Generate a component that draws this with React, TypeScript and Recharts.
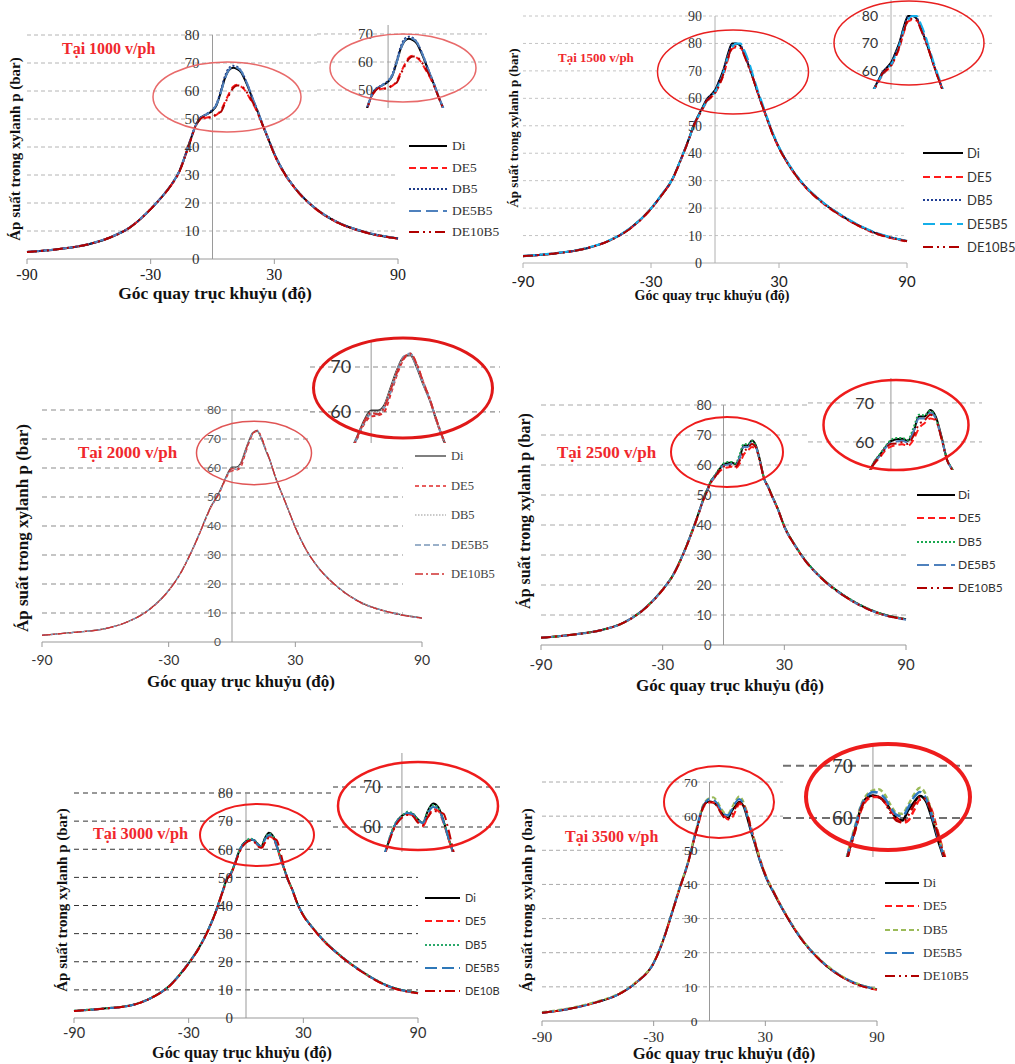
import React from 'react';
import { LineChart, Line, XAxis, YAxis, ReferenceLine, ReferenceDot } from 'recharts';

const ANGLES = [-90, -75, -60, -50, -40, -30, -25, -20, -16, -12, -10, -8, -6, -4, -2, 0, 2, 4, 6, 8, 10, 12, 14, 16, 18, 20, 22, 24, 27, 30, 35, 40, 50, 60, 75, 90];
const X_TICKS = [-90, -30, 30, 90];
const SERIES = ['Di', 'DE5', 'DB5', 'DE5B5', 'DE10B5'];
const Y_TICKS_80 = [0, 10, 20, 30, 40, 50, 60, 70, 80];
const Y_TICKS_90 = [0, 10, 20, 30, 40, 50, 60, 70, 80, 90];
const Y_TICKS_70 = [0, 10, 20, 30, 40, 50, 60, 70];
const INSET_TICKS_A = [50, 60, 70];
const INSET_TICKS_B = [60, 70, 80];
const INSET_TICKS_C = [60, 70];
const X_LABEL = 'Góc quay trục khuỷu (độ)';
const Y_LABEL = 'Áp suất trong xylanh p (bar)';
const TITLES = ['Tại 1000 v/ph', 'Tại 1500 v/ph', 'Tại 2000 v/ph', 'Tại 2500 v/ph', 'Tại 3000 v/ph', 'Tại 3500 v/ph'];

// ---- 1000 v/ph ----
const P1000_DI = [2.5, 3.5, 5.3, 7.6, 11.3, 17.8, 21.8, 26.5, 31.5, 39.6, 44, 48, 50.3, 51.2, 52, 53, 55, 59.5, 64.5, 67.5, 68.3, 67.8, 66.5, 63.5, 60, 56, 52.5, 48.5, 43, 37.5, 30.5, 25.3, 18, 13.3, 9.4, 7.3];
const P1000_DE5 = [2.5, 3.5, 5.3, 7.6, 11.3, 17.8, 21.8, 26.4, 31.3, 39.4, 43.8, 47.7, 49.8, 50.3, 50.6, 50.8, 51.5, 53, 56, 59, 61.5, 62.2, 61.5, 60, 57.5, 55, 52, 48.3, 43, 37.3, 30.3, 25.2, 17.9, 13.2, 9.3, 7.2];
const P1000_DB5 = [2.5, 3.5, 5.3, 7.6, 11.3, 17.8, 21.8, 26.5, 31.5, 39.6, 44.1, 48.1, 50.4, 51.3, 52.2, 53.3, 55.5, 60, 65.2, 68.2, 69, 68.6, 67, 64, 60.3, 56.3, 52.7, 48.6, 43.1, 37.6, 30.6, 25.4, 18.1, 13.4, 9.4, 7.3];
const P1000_DE5B5 = [2.6, 3.5, 5.4, 7.7, 11.4, 17.9, 21.9, 26.6, 31.6, 39.8, 44.2, 48, 50.2, 51.2, 52.1, 53.2, 55.2, 59.3, 64.3, 67.6, 68.6, 68.3, 67, 64, 60.4, 56.4, 52.8, 48.8, 43.2, 37.7, 30.6, 25.4, 18.1, 13.4, 9.5, 7.4];
const P1000_DE10B5 = [2.5, 3.5, 5.3, 7.6, 11.3, 17.8, 21.8, 26.4, 31.3, 39.5, 43.8, 47.8, 49.9, 50.8, 50.5, 50.6, 52, 52.5, 55.5, 58.5, 61, 62, 61.8, 60.2, 58, 55.3, 52.2, 48.4, 43, 37.4, 30.4, 25.3, 18, 13.3, 9.4, 7.3];

// ---- 1500 v/ph ----
const P1500_DI = [2.5, 3.5, 5.4, 8, 12.5, 19.8, 24.8, 30.5, 37.8, 45.8, 50.2, 53.5, 56.5, 59.5, 61.2, 63, 66.5, 70.5, 76, 80, 80, 79, 75.5, 71.5, 67, 62.2, 57.8, 53.5, 47.2, 42, 35.3, 29.9, 22.3, 16.9, 11, 8];
const P1500_DE5 = [2.5, 3.5, 5.4, 8, 12.4, 19.7, 24.7, 30.3, 37.5, 45.5, 49.8, 53, 55.8, 58.5, 60.2, 61.8, 64.8, 68.5, 74, 78, 78.5, 78.3, 75.5, 71.5, 67, 62, 57.6, 53.3, 47, 41.8, 35.1, 29.7, 22.1, 16.7, 10.8, 7.8];
const P1500_DB5 = [2.5, 3.5, 5.4, 8, 12.5, 19.8, 24.8, 30.5, 37.8, 45.7, 50.1, 53.4, 56.4, 59.4, 61, 62.8, 66.2, 70.2, 75.7, 79.5, 80, 79.3, 75.8, 71.7, 67.2, 62.3, 57.9, 53.6, 47.3, 42.1, 35.4, 30, 22.4, 17, 11.1, 8.1];
const P1500_DE5B5 = [2.6, 3.6, 5.5, 8.1, 12.6, 19.9, 25, 30.6, 37.8, 45.6, 50, 53.2, 56, 58.8, 60.6, 62.2, 65.5, 69.5, 75, 78.5, 80, 80, 77, 73, 68, 63, 58.5, 54, 47.6, 42.3, 35.5, 30.1, 22.5, 17.1, 11.2, 8.1];
const P1500_DE10B5 = [2.5, 3.5, 5.4, 8, 12.4, 19.7, 24.7, 30.4, 37.6, 45.6, 50, 53.2, 56, 59, 60.5, 62, 65, 69, 74.5, 78.5, 79, 78.5, 75, 71, 66.8, 62, 57.6, 53.3, 47, 41.9, 35.2, 29.8, 22.2, 16.8, 10.9, 7.9];

// ---- 2000 v/ph ----
const P2000_DI = [2.3, 3.3, 4.6, 6.8, 10.8, 17.8, 23, 30, 36.5, 43.5, 46.8, 49.2, 51.8, 55, 58.3, 60.3, 60.3, 61.5, 65.5, 69.5, 72.3, 72.6, 69.8, 66, 62.5, 58, 54, 50.5, 45, 39.5, 32, 26.5, 19, 14, 10.2, 8.3];
const P2000_DE5 = [2.3, 3.3, 4.6, 6.8, 10.7, 17.7, 22.9, 29.8, 36.2, 43.2, 46.4, 48.8, 51.3, 54.5, 57.5, 59, 59.2, 60, 64, 68.5, 71.8, 72.8, 70.5, 66.5, 62.7, 58, 54, 50.4, 44.9, 39.4, 31.9, 26.4, 18.9, 13.9, 10.1, 8.2];
const P2000_DB5 = [2.3, 3.3, 4.6, 6.8, 10.8, 17.8, 23, 30, 36.5, 43.4, 46.7, 49.1, 51.7, 54.8, 58, 60, 60, 61.3, 65.2, 69.3, 72.2, 72.8, 70, 66.2, 62.6, 58.1, 54.1, 50.6, 45.1, 39.6, 32.1, 26.6, 19.1, 14.1, 10.3, 8.3];
const P2000_DE5B5 = [2.3, 3.3, 4.6, 6.8, 10.8, 17.8, 23, 29.9, 36.3, 43.2, 46.5, 48.9, 51.4, 54.7, 57.8, 59.5, 59.5, 61, 64.5, 69, 72.3, 73, 70, 66.3, 62.6, 58.1, 54, 50.5, 45, 39.5, 32, 26.5, 19, 14, 10.2, 8.2];
const P2000_DE10B5 = [2.3, 3.3, 4.6, 6.8, 10.7, 17.7, 22.9, 29.9, 36.3, 43.3, 46.6, 49, 51.5, 54.8, 58, 59.8, 59.5, 61, 65, 69, 72, 73, 70.5, 66.5, 62.7, 58.2, 54.1, 50.5, 45, 39.5, 32, 26.5, 19, 14, 10.2, 8.2];

// ---- 2500 v/ph ----
const P2500_DI = [2.4, 3.4, 5, 7.2, 11.5, 18.5, 23.2, 30.2, 37, 44.5, 48.5, 51.8, 54.8, 56.6, 58.6, 60.2, 60.7, 60.8, 60.3, 62.5, 66.5, 66.5, 68.2, 66.5, 61.5, 55.5, 52.8, 49.6, 45, 39.5, 33.5, 28.5, 21.3, 16.2, 11, 8.6];
const P2500_DE5 = [2.4, 3.4, 5, 7.2, 11.4, 18.4, 23.1, 30, 36.7, 44.2, 48.2, 51.4, 54.3, 56, 57.8, 58.8, 59.2, 59.4, 59, 60.5, 63.5, 64.8, 66, 65.5, 61, 55.5, 52.7, 49.5, 44.9, 39.4, 33.4, 28.4, 21.2, 16.1, 10.9, 8.5];
const P2500_DB5 = [2.4, 3.4, 5, 7.2, 11.5, 18.5, 23.2, 30.2, 37.1, 44.6, 48.6, 51.9, 54.9, 56.8, 58.8, 60.5, 61, 61, 60.5, 63.5, 67, 66.8, 68, 66.2, 61.3, 55.6, 52.9, 49.7, 45.1, 39.6, 33.6, 28.6, 21.4, 16.3, 11.1, 8.6];
const P2500_DE5B5 = [2.4, 3.4, 5, 7.2, 11.5, 18.5, 23.2, 30.1, 36.9, 44.4, 48.4, 51.6, 54.6, 56.4, 58.4, 59.8, 60.1, 60.3, 59.8, 62.5, 66, 66, 67.5, 66, 61.2, 55.4, 52.7, 49.5, 44.9, 39.4, 33.4, 28.4, 21.2, 16.1, 10.9, 8.4];
const P2500_DE10B5 = [2.4, 3.4, 5, 7.2, 11.4, 18.4, 23.1, 30, 36.8, 44.3, 48.3, 51.5, 54.5, 56.2, 58.2, 59.5, 59.6, 59.9, 59.5, 61.5, 64.5, 65.5, 67, 65.8, 61, 55.4, 52.6, 49.5, 44.9, 39.4, 33.4, 28.4, 21.2, 16.1, 10.9, 8.5];

// ---- 3000 v/ph ----
const P3000_DI = [2.5, 3.3, 4.5, 7, 11.5, 19.5, 24.5, 31, 37.5, 45.5, 49.5, 51.3, 54.5, 58.5, 61.3, 62.8, 63.4, 63.3, 62, 61, 64.1, 65.9, 64.9, 61.5, 57, 53, 49, 46, 40.5, 36.5, 32, 28, 21.8, 16.8, 11.2, 8.9];
const P3000_DE5 = [2.5, 3.3, 4.5, 7, 11.4, 19.4, 24.4, 30.8, 37.3, 45.2, 49.2, 51, 54.2, 58.2, 61, 62.5, 63.2, 63, 61.5, 60.2, 62.5, 64.5, 64, 61, 56.8, 52.8, 48.9, 45.9, 40.4, 36.4, 31.9, 27.9, 21.7, 16.7, 11.1, 8.8];
const P3000_DB5 = [2.6, 3.4, 4.6, 7.1, 11.6, 19.6, 24.6, 31.1, 37.6, 45.6, 49.6, 51.5, 54.7, 58.8, 61.5, 62.8, 63.8, 63.5, 62, 61.2, 64, 65.5, 64.8, 61.5, 57.1, 53.1, 49.1, 46.1, 40.6, 36.6, 32.1, 28.1, 21.9, 16.9, 11.3, 9];
const P3000_DE5B5 = [2.5, 3.3, 4.5, 7, 11.5, 19.5, 24.5, 31, 37.5, 45.5, 49.5, 51.3, 54.6, 58.5, 61.3, 62.6, 63.5, 63.2, 61.8, 61, 63.5, 65, 64.5, 61.3, 57, 53, 49, 46, 40.5, 36.5, 32, 28, 21.8, 16.8, 11.2, 8.9];
const P3000_DE10B5 = [2.5, 3.3, 4.5, 7, 11.4, 19.4, 24.4, 30.9, 37.4, 45.3, 49.3, 51.1, 54.3, 58, 60.8, 62.3, 63, 62.8, 61.2, 60.5, 62.5, 64, 63.8, 63.3, 59, 53.5, 49.2, 46, 40.5, 36.4, 31.9, 27.9, 21.7, 16.7, 11.1, 8.8];

// ---- 3500 v/ph ----
const P3500_DI = [2.4, 3.6, 5.6, 7.5, 11, 17, 23.5, 32, 39, 45.5, 49.5, 54, 58, 62, 63.9, 64.3, 64, 63.2, 61.5, 60, 59.5, 61.5, 63, 64.2, 63.2, 60, 56, 52.5, 47, 42.5, 37, 32, 23.5, 17.5, 11.8, 9.2];
const P3500_DE5 = [2.4, 3.6, 5.6, 7.5, 11, 17, 23.4, 31.8, 38.8, 45.3, 49.3, 53.7, 57.6, 61.5, 63.5, 64, 64, 63, 61.5, 60, 59, 59.5, 61.5, 63.5, 63.5, 61.5, 57.5, 53.5, 47.8, 43, 37.3, 32.2, 23.6, 17.5, 11.7, 9.1];
const P3500_DB5 = [2.6, 3.8, 5.8, 7.7, 11.2, 17.2, 23.7, 32.2, 39.3, 45.8, 49.9, 54.5, 58.6, 62.5, 64.5, 65.3, 65.5, 64.5, 62.5, 61, 60.8, 62.5, 64.5, 65.8, 64.5, 61, 57, 53.2, 47.6, 43, 37.4, 32.3, 23.8, 17.8, 12, 9.4];
const P3500_DE5B5 = [2.4, 3.6, 5.6, 7.5, 11, 17, 23.5, 32, 39.1, 45.6, 49.7, 54.2, 58.3, 62.3, 64.2, 65, 64.8, 63.8, 62, 60.6, 60.3, 62, 64, 65, 63.8, 60.5, 56.5, 52.8, 47.2, 42.6, 37.1, 32.1, 23.6, 17.6, 11.9, 9.3];
const P3500_DE10B5 = [2.4, 3.6, 5.6, 7.5, 11, 17, 23.4, 31.9, 38.9, 45.4, 49.4, 53.8, 57.8, 61.8, 63.8, 64.2, 64, 63, 61, 59.5, 59.2, 60.5, 62.5, 64, 63.5, 61, 57, 53, 47.5, 42.8, 37.2, 32.1, 23.5, 17.5, 11.7, 9.1];

function buildRows(cols: number[][]) {
  return ANGLES.map((a, i) => {
    const r: any = { a };
    SERIES.forEach((s, k) => { r[s] = cols[k][i]; });
    return r;
  });
}

const SERIF = "'Liberation Serif','DejaVu Serif','Times New Roman',serif";
const SANS = "Lato,'Liberation Sans',sans-serif";
const RED = '#f0282d';
const ML = 20, MR = 20, MT = 10, XH = 40;

const STY_A = [{ c: '#000' }, { c: '#ff1a1a', d: '7 4' }, { c: '#1f3d8a', d: '2 2' }, { c: '#4f81bd', d: '12 5' }, { c: '#b00000', d: '10 4 2 4 2 4' }];
const STY_B = [{ c: '#000' }, { c: '#ff1a1a', d: '7 4' }, { c: '#203f95', d: '2 2' }, { c: '#15aee8', d: '12 5' }, { c: '#b00000', d: '10 4 2 4 2 4' }];
const STY_C = [{ c: '#3a3a3a' }, { c: '#e02828', d: '4 3' }, { c: '#b8b8b8', d: '1.5 1.5' }, { c: '#7a96b8', d: '6 3' }, { c: '#d03030', d: '8 3 2 3' }];
const STY_D = [{ c: '#000' }, { c: '#ff1a1a', d: '7 4' }, { c: '#1aa84f', d: '2 2' }, { c: '#4f81bd', d: '12 5' }, { c: '#b00000', d: '10 4 2 4 2 4' }];
const STY_E = [{ c: '#000' }, { c: '#ff1a1a', d: '7 4' }, { c: '#2aa86a', d: '2 2' }, { c: '#2e78b8', d: '12 5' }, { c: '#c00000', d: '10 4 2 4' }];
const STY_F = [{ c: '#000' }, { c: '#ff1a1a', d: '7 4' }, { c: '#9bbb59', d: '5 3' }, { c: '#2e78c0', d: '12 5' }, { c: '#b00000', d: '10 4 2 4 2 4' }];

const PANELS: any[] = [
  {
    rows: buildRows([P1000_DI, P1000_DE5, P1000_DB5, P1000_DE5B5, P1000_DE10B5]), styles: STY_A, title: TITLES[0],
    x0: 27, x1: 398, yTop: 35, yBot: 259, yMax: 80, yTicks: Y_TICKS_80, gridEnd: 90,
    grid: { c: '#b4b4b4', d: '4 3', w: 1 }, axis: '#9a9a9a', lw: 2, insetLw: 2,
    yTick: { font: SERIF, size: 15, color: '#333', off: 13 },
    xTick: { font: SERIF, size: 16, color: '#222', m: 5 },
    t: { x: 62, cy: 49, s: 16 }, xl: { cx: 215, cy: 294, s: 17.5 }, yl: { cx: 15, cy: 149, s: 15 },
    lg: { x: 409, y: 146, dy: 21.5, w: 38, gap: 5, font: SERIF, size: 13.5, color: '#333', lw: 2 },
    inset: { l: 317, t: 25, r: 487, b: 108, xd: [-34.5, 48], yd: [43.6, 73.2], ticks: INSET_TICKS_A, font: SERIF, size: 15, color: '#333', off: 15, grid: { c: '#b4b4b4', d: '4 3', w: 1 } },
    ell: [[227, 97, 74, 35, '#e86a6a', 1.5], [403, 68, 73, 34, '#e86a6a', 1.5]],
  },
  {
    rows: buildRows([P1500_DI, P1500_DE5, P1500_DB5, P1500_DE5B5, P1500_DE10B5]), styles: STY_B, title: TITLES[1],
    x0: 523, x1: 907, yTop: 16, yBot: 263, yMax: 90, yTicks: Y_TICKS_90, gridEnd: 90,
    grid: { c: '#c4c4c4', d: '3 3', w: 1 }, axis: '#b0b0b0', lw: 2, insetLw: 2,
    yTick: { font: SERIF, size: 14, color: '#333', off: 13 },
    xTick: { font: SANS, size: 15, color: '#222', m: 8 },
    t: { x: 558, cy: 57, s: 13 }, xl: { cx: 712, cy: 296, s: 14 }, yl: { cx: 513, cy: 128, s: 13 },
    lg: { x: 923, y: 153, dy: 23.5, w: 40, gap: 4, font: SANS, size: 13, color: '#333', lw: 2 },
    inset: { l: 833, t: 0, r: 993, b: 89, xd: [-27.2, 47.8], yd: [53.4, 85.8], ticks: INSET_TICKS_B, font: SANS, size: 14, color: '#333', off: 13, grid: { c: '#c4c4c4', d: '3 3', w: 1 } },
    ell: [[733, 72, 75.5, 42, '#e82020', 1.5], [909, 43, 75, 42, '#e82020', 1.5]],
  },
  {
    rows: buildRows([P2000_DI, P2000_DE5, P2000_DB5, P2000_DE5B5, P2000_DE10B5]), styles: STY_C, title: TITLES[2],
    x0: 42, x1: 422, yTop: 410, yBot: 642, yMax: 80, yTicks: Y_TICKS_80, gridEnd: 81,
    grid: { c: '#8c8c8c', d: '5 4', w: 1.2 }, axis: '#999', lw: 1.2, insetLw: 2,
    yTick: { font: SANS, size: 12, color: '#555', off: 11 },
    xTick: { font: SANS, size: 14, color: '#333', m: 8 },
    t: { x: 78, cy: 452, s: 17 }, xl: { cx: 241, cy: 681, s: 17 }, yl: { cx: 22, cy: 528, s: 17 },
    lg: { x: 415, y: 456, dy: 29.5, w: 31, gap: 5, font: SERIF, size: 12.5, color: '#444', lw: 1.3 },
    inset: { l: 310, t: 340, r: 500, b: 443, xd: [-18.7, 39.4], yd: [53.1, 76], ticks: INSET_TICKS_C, font: SANS, size: 18, color: '#333', off: 20, grid: { c: '#8c8c8c', d: '5 4', w: 1.2 } },
    ell: [[254, 453, 57.5, 31.7, '#e05555', 1.5], [403, 388, 89.5, 50, '#e01818', 3]],
  },
  {
    rows: buildRows([P2500_DI, P2500_DE5, P2500_DB5, P2500_DE5B5, P2500_DE10B5]), styles: STY_D, title: TITLES[3],
    x0: 541, x1: 906, yTop: 405, yBot: 645, yMax: 80, yTicks: Y_TICKS_80, gridEnd: 90,
    grid: { c: '#a8a8a8', d: '5 4', w: 1 }, axis: '#999', lw: 2, insetLw: 2,
    yTick: { font: SANS, size: 13, color: '#444', off: 12 },
    xTick: { font: SANS, size: 15, color: '#333', m: 9 },
    t: { x: 557, cy: 452, s: 17 }, xl: { cx: 730, cy: 685, s: 17 }, yl: { cx: 525, cy: 511, s: 16 },
    lg: { x: 917, y: 495, dy: 23.3, w: 38, gap: 3, font: SANS, size: 12, color: '#333', lw: 2 },
    inset: { l: 808, t: 378, r: 982, b: 470, xd: [-29.6, 32.5], yd: [52.8, 76.4], ticks: INSET_TICKS_C, font: SANS, size: 16, color: '#333', off: 17, grid: { c: '#a8a8a8', d: '5 4', w: 1 } },
    ell: [[727, 452, 56, 35, '#ee1c1c', 2], [896, 425, 72.5, 45, '#ee1c1c', 2.5]],
  },
  {
    rows: buildRows([P3000_DI, P3000_DE5, P3000_DB5, P3000_DE5B5, P3000_DE10B5]), styles: STY_E, title: TITLES[4],
    x0: 74, x1: 418, yTop: 793, yBot: 1018, yMax: 80, yTicks: Y_TICKS_80, gridEnd: 90, clipW: 500,
    grid: { c: '#333', d: '5 4', w: 1 }, axis: '#999', lw: 2, insetLw: 2,
    yTick: { font: SERIF, size: 15, color: '#333', off: 13 },
    xTick: { font: SANS, size: 14.5, color: '#333', m: 5 },
    t: { x: 93, cy: 834, s: 16.3 }, xl: { cx: 242, cy: 1053, s: 16.3 }, yl: { cx: 62, cy: 900, s: 15 },
    lg: { x: 425, y: 898, dy: 23.3, w: 35, gap: 5, font: SANS, size: 11, color: '#333', lw: 2 },
    inset: { l: 333, t: 753, r: 500, b: 852, xd: [-26.5, 37.7], yd: [53.75, 78.5], ticks: INSET_TICKS_C, font: SERIF, size: 18, color: '#333', off: 21, grid: { c: '#333', d: '5 4', w: 1 } },
    ell: [[257, 835, 57, 31, '#ee1c1c', 2], [418, 806, 80, 44, '#ee1c1c', 2.5]],
  },
  {
    rows: buildRows([P3500_DI, P3500_DE5, P3500_DB5, P3500_DE5B5, P3500_DE10B5]), styles: STY_F, title: TITLES[5],
    x0: 542, x1: 877, yTop: 782, yBot: 1021, yMax: 70, yTicks: Y_TICKS_70, gridEnd: 90,
    grid: { c: '#aaaaaa', d: '4 3', w: 1 }, axis: '#999', lw: 2, insetLw: 2.5,
    yTick: { font: SERIF, size: 13.5, color: '#333', off: 12 },
    xTick: { font: SERIF, size: 15.5, color: '#333', m: 5 },
    t: { x: 565, cy: 837, s: 16 }, xl: { cx: 724, cy: 1054, s: 16.5 }, yl: { cx: 527, cy: 900, s: 15 },
    lg: { x: 885, y: 883, dy: 23.3, w: 34, gap: 4, font: SERIF, size: 13, color: '#333', lw: 2 },
    inset: { l: 783, t: 745, r: 972, b: 857, xd: [-30.6, 33.7], yd: [52.5, 74], ticks: INSET_TICKS_C, font: SERIF, size: 21, color: '#333', off: 20, grid: { c: '#707070', d: '8 5', w: 2 } },
    ell: [[719, 802, 55, 36, '#ee1c1c', 2], [888, 797, 82, 53, '#ee1c1c', 4]],
  },
];

function seriesLines(c: any, lw: number) {
  return SERIES.map((s, k) => (
    <Line key={s} type="monotone" dataKey={s} stroke={c.styles[k].c} strokeWidth={lw}
      strokeDasharray={c.styles[k].d} dot={false} activeDot={false} isAnimationActive={false} />
  ));
}

function Panel({ c }: { c: any }) {
  const W = c.x1 - c.x0 + ML + MR;
  const H = c.yBot - c.yTop + MT + XH;
  const ins = c.inset;
  const iw = ins.r - ins.l;
  const ih = ins.b - ins.t;
  const bold = { fontFamily: SERIF, fontWeight: 700, whiteSpace: 'nowrap' as const, lineHeight: 1, position: 'absolute' as const };
  const inner = (
    <>
      <div style={{ position: 'absolute', left: c.x0 - ML, top: c.yTop - MT }}>
        <LineChart width={W} height={H} data={c.rows} margin={{ top: MT, right: MR, bottom: 0, left: ML }}>
          <XAxis type="number" dataKey="a" domain={[-90, 90]} ticks={X_TICKS} interval={0} height={XH}
            tickSize={5} tickMargin={c.xTick.m} axisLine={{ stroke: c.axis }} tickLine={{ stroke: c.axis }}
            tick={{ fill: c.xTick.color, fontSize: c.xTick.size, fontFamily: c.xTick.font }} />
          <YAxis type="number" hide width={0} domain={[0, c.yMax]} />
          {c.yTicks.filter((v: number) => v > 0).map((v: number) => (
            <ReferenceLine key={'g' + v} segment={[{ x: -90, y: v }, { x: c.gridEnd, y: v }]}
              stroke={c.grid.c} strokeDasharray={c.grid.d} strokeWidth={c.grid.w} ifOverflow="visible" />
          ))}
          <ReferenceLine x={0} stroke={c.axis} strokeWidth={1} />
          {seriesLines(c, c.lw)}
          {c.yTicks.map((v: number) => (
            <ReferenceDot key={'t' + v} x={0} y={v} r={0} fill="none" stroke="none" ifOverflow="visible"
              label={{ value: String(v), position: 'left', offset: c.yTick.off, fill: c.yTick.color, fontSize: c.yTick.size, fontFamily: c.yTick.font }} />
          ))}
        </LineChart>
      </div>
      <div style={{ position: 'absolute', left: ins.l, top: ins.t, width: iw, height: ih, background: '#fff' }}>
        <LineChart width={iw} height={ih} data={c.rows} margin={{ top: 0, right: 0, bottom: 0, left: 0 }}>
          <XAxis type="number" dataKey="a" hide domain={ins.xd} allowDataOverflow />
          <YAxis type="number" hide width={0} domain={ins.yd} allowDataOverflow />
          {ins.ticks.map((v: number) => (
            <ReferenceLine key={'ig' + v} y={v} stroke={ins.grid.c} strokeDasharray={ins.grid.d} strokeWidth={ins.grid.w} />
          ))}
          <ReferenceLine x={0} stroke={c.axis} strokeWidth={1} />
          {seriesLines(c, c.insetLw)}
          {ins.ticks.map((v: number) => (
            <ReferenceDot key={'it' + v} x={0} y={v} r={0} fill="none" stroke="none" ifOverflow="visible"
              label={{ value: String(v), position: 'left', offset: ins.off, fill: ins.color, fontSize: ins.size, fontFamily: ins.font }} />
          ))}
        </LineChart>
      </div>
      <div style={{ position: 'absolute', left: c.lg.x, top: c.lg.y }}>
        {SERIES.map((s, k) => (
          <div key={s} style={{ position: 'absolute', left: 0, top: k * c.lg.dy - 9, height: 18, display: 'flex', alignItems: 'center', whiteSpace: 'nowrap' }}>
            <svg width={c.lg.w} height={6} style={{ display: 'block', flex: 'none' }}>
              <line x1={0} y1={3} x2={c.lg.w} y2={3} stroke={c.styles[k].c} strokeWidth={c.lg.lw} strokeDasharray={c.styles[k].d} />
            </svg>
            <span style={{ marginLeft: c.lg.gap, fontFamily: c.lg.font, fontSize: c.lg.size, color: c.lg.color, lineHeight: '18px' }}>{s}</span>
          </div>
        ))}
      </div>
      <div style={{ ...bold, left: c.t.x, top: c.t.cy, transform: 'translateY(-50%)', fontSize: c.t.s, color: RED }}>{c.title}</div>
      <div style={{ ...bold, left: c.xl.cx, top: c.xl.cy, transform: 'translate(-50%,-50%)', fontSize: c.xl.s, color: '#111' }}>{X_LABEL}</div>
      <div style={{ ...bold, left: c.yl.cx, top: c.yl.cy, transform: 'translate(-50%,-50%) rotate(-90deg)', fontSize: c.yl.s, color: '#111' }}>{Y_LABEL}</div>
    </>
  );
  if (c.clipW) {
    return <div style={{ position: 'absolute', left: 0, top: 0, width: c.clipW, height: 1064, overflow: 'hidden' }}>{inner}</div>;
  }
  return inner;
}

export default function App() {
  return (
    <div style={{ position: 'absolute', left: 0, top: 0, width: 1015, height: 1064, background: '#fff', overflow: 'hidden', fontFamily: SERIF }}>
      {PANELS.map((c, i) => <Panel key={i} c={c} />)}
      <svg width={1015} height={1064} style={{ position: 'absolute', left: 0, top: 0, pointerEvents: 'none' }}>
        {PANELS.flatMap((c, i) => c.ell.map((e: any[], j: number) => (
          <ellipse key={i + '-' + j} cx={e[0]} cy={e[1]} rx={e[2]} ry={e[3]} fill="none" stroke={e[4]} strokeWidth={e[5]} />
        )))}
      </svg>
    </div>
  );
}
